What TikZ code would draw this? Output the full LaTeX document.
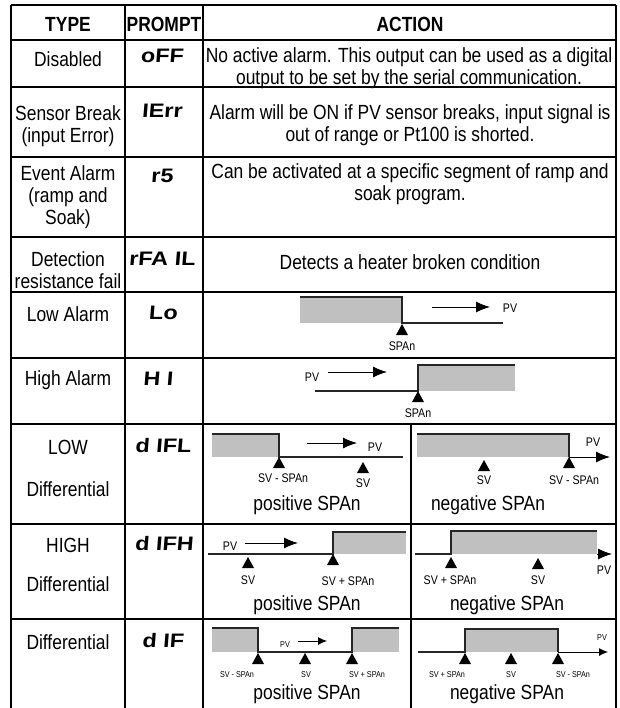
\documentclass[tikz,border=0pt]{standalone}
\usepackage{fontspec}
\setmainfont{Liberation Sans}[FakeStretch=0.85]
\newfontfamily\segfont{Liberation Sans}[FakeStretch=1.2,FakeSlant=0.08]
\usetikzlibrary{arrows.meta}
\definecolor{boxgray}{RGB}{192,192,192}
\newcommand{\bodysize}{\fontsize{20.5}{22}\selectfont}
\newcommand{\labsize}{\fontsize{12.5}{13}\selectfont}
\newcommand{\tinysize}{\fontsize{8.5}{9}\selectfont}
\newcommand{\alarmzone}[4]
{\fill[boxgray] (#1,#2) rectangle (#3,#4);
}
\newcommand{\spmark}[6]
{\fill (#1,#2) -- ++(-6,11) -- ++(12,0) -- cycle;
\node[marklabel] (#5) at (#3,#4) {#6};
}

\begin{document}
\begin{tikzpicture}[x=1pt,y=-1pt,
	grid/.style={line width=1.3pt},
	stepline/.style={line width=1.1pt,draw=black!85},
	pvarrow/.style={line width=1pt,-{Latex[length=14pt,width=11pt]}},
	smallarrow/.style={line width=.9pt,-{Latex[length=9pt,width=8pt]}},
	cell/.style={inner sep=0pt,align=center,font=\bodysize},
	head/.style={inner sep=0pt,font=\bodysize\bfseries},
	prompt/.style={inner sep=0pt,font=\fontsize{19.5}{20}\selectfont\segfont\bfseries},
	marklabel/.style={inner sep=0pt,font=\labsize},
	pvlabel/.style={inner sep=0pt,font=\labsize}]
	\useasboundingbox (0,0) rectangle (619,708);
	% rules
	\foreach \y in {5,40,87,157,237,292,358,424,524,619}
		{\draw[grid] (11,\y) -- (616,\y);
			};
	\foreach \x in {11,125,203,616}
		{\draw[grid] (\x,5) -- (\x,708);
			};
	\draw[grid] (411,424) -- (411,708);
	% header
	\node[head] (h-type) at (68,24) {TYPE};
	\node[head] (h-prompt) at (164,24) {PROMPT};
	\node[head] (h-action) at (410,24) {ACTION};
	% text rows
	\node[cell] (t-off) at (68,59) {Disabled};
	\node[prompt] (p-off) at (162,56) {oFF};
	\node[cell] (a-off) at (409,68) {No active alarm. This output can be used as a digital\\output to be set by the serial communication.};
	\node[cell] (t-ierr) at (68,126) {Sensor Break\\(input Error)};
	\node[prompt] (p-ierr) at (162,111) {IErr};
	\node[cell] (a-ierr) at (410,125) {Alarm will be ON if PV sensor breaks, input signal is\\out of range or Pt100 is shorted.};
	\node[cell] (t-rs) at (68,197) {Event Alarm\\(ramp and\\Soak)};
	\node[prompt] (p-rs) at (162,176) {r5};
	\node[cell] (a-rs) at (410,184) {Can be activated at a specific segment of ramp and\\soak program.};
	\node[cell] (t-rfail) at (68,270) {Detection\\resistance fail};
	\node[prompt] (p-rfail) at (162,259) {rFA IL};
	\node[cell] (a-rfail) at (410,262) {Detects a heater broken condition};
	\node[cell] (t-lo) at (68,314) {Low Alarm};
	\node[prompt] (p-lo) at (163,313) {Lo};
	\node[cell] (t-hi) at (68,380) {High Alarm};
	\node[prompt] (p-hi) at (158,379) {H I};
	\node[cell] (t-difl) at (68,447) {LOW};
	\node[cell] (t-difl2) at (68,489) {Differential};
	\node[prompt] (p-difl) at (163,446) {d IFL};
	\node[cell] (t-difh) at (68,545) {HIGH};
	\node[cell] (t-difh2) at (68,584) {Differential};
	\node[prompt] (p-difh) at (164,544) {d IFH};
	\node[cell] (t-dif) at (68,642) {Differential};
	\node[prompt] (p-dif) at (163,641) {d IF};
	% low alarm
	\alarmzone{300}{297}{402}{323}
	\draw[stepline] (300,297) -- (402,297) -- (402,323) -- (503,323);
	\draw[pvarrow] (432,307) -- (490,307);
	\node[pvlabel] (lo-pv) at (510,308) {PV};
	\spmark{402}{324}{402}{346}{lo-span}{SPAn}
	% high alarm
	\alarmzone{418}{365}{515}{391}
	\draw[stepline] (315,391) -- (418,391) -- (418,365) -- (515,365);
	\node[pvlabel] (hi-pv) at (312,377) {PV};
	\draw[pvarrow] (328,372) -- (387,372);
	\spmark{418}{391}{418}{413}{hi-span}{SPAn}
	% low differential
	\alarmzone{212}{434}{279}{457}
	\draw[stepline] (212,434) -- (279,434) -- (279,457) -- (403,457);
	\draw[pvarrow] (307,443) -- (357,443);
	\node[pvlabel] (dl-pv) at (375,447) {PV};
	\spmark{279}{457}{283}{478}{dl-lo}{SV - SPAn}
	\spmark{363}{462}{363}{483}{dl-sv}{SV}
	\node[cell] (dl-pos) at (307,505) {positive SPAn};
	\alarmzone{417}{434}{569}{457}
	\draw[stepline] (417,434) -- (569,434) -- (569,457);
	\draw[pvarrow] (569,457) -- (610,457);
	\node[pvlabel] (dl-pv2) at (593,442) {PV};
	\spmark{484}{460}{484}{480}{dl-sv2}{SV}
	\spmark{569}{457}{574}{480}{dl-lo2}{SV - SPAn}
	\node[cell] (dl-neg) at (488,505) {negative SPAn};
	% high differential
	\alarmzone{333}{532}{406}{554}
	\draw[stepline] (208,554) -- (333,554) -- (333,532) -- (406,532);
	\node[pvlabel] (dh-pv) at (230,546) {PV};
	\draw[pvarrow] (245,543) -- (298,543);
	\spmark{248}{557}{248}{580}{dh-sv}{SV}
	\spmark{333}{554}{348}{581}{dh-hi}{SV + SPAn}
	\node[cell] (dh-pos) at (307,605) {positive SPAn};
	\alarmzone{451}{531}{597}{554}
	\draw[stepline] (415,554) -- (451,554) -- (451,531) -- (597,531);
	\draw[pvarrow] (597,554) -- (612,554);
	\node[pvlabel] (dh-pv2) at (604,570) {PV};
	\spmark{451}{557}{450}{580}{dh-hi2}{SV + SPAn}
	\spmark{538}{558}{538}{580}{dh-sv2}{SV}
	\node[cell] (dh-neg) at (507,605) {negative SPAn};
	% differential
	\begin{scope}[marklabel/.style={inner sep=0pt,font=\tinysize}]
	\alarmzone{212}{628}{258}{652}
	\alarmzone{352}{628}{399}{652}
	\draw[stepline] (212,628) -- (258,628) -- (258,652) -- (352,652) -- (352,628) -- (399,628);
	\node[marklabel] (df-pv) at (285,645) {PV};
	\draw[smallarrow] (298,641) -- (327,641);
	\spmark{258}{653}{237}{675}{df-lo}{SV - SPAn}
	\spmark{305}{653}{306}{675}{df-sv}{SV}
	\spmark{352}{653}{367}{675}{df-hi}{SV + SPAn}
	\node[cell] (df-pos) at (307,694) {positive SPAn};
	\alarmzone{465}{629}{558}{652}
	\draw[stepline] (418,652) -- (465,652) -- (465,629) -- (558,629) -- (558,652);
	\draw[smallarrow] (558,652) -- (608,652);
	\node[marklabel] (df-pv2) at (602,638) {PV};
	\spmark{465}{653}{447}{675}{df-hi2}{SV + SPAn}
	\spmark{511}{653}{511}{675}{df-sv2}{SV}
	\spmark{558}{653}{573}{675}{df-lo2}{SV - SPAn}
	\node[cell] (df-neg) at (507,694) {negative SPAn};
	\end{scope}
\end{tikzpicture}
\end{document}
